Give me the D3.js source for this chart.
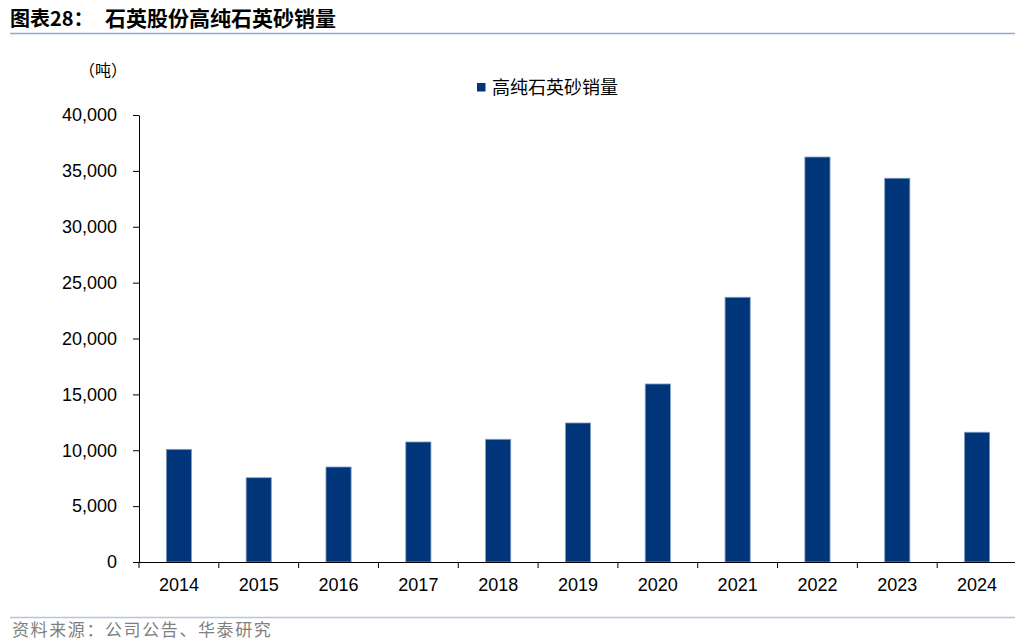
<!DOCTYPE html>
<html><head><meta charset="utf-8">
<script src="https://cdn.jsdelivr.net/npm/d3@7"></script>
<style>
html,body{margin:0;padding:0;background:#fff;}
svg{display:block;}
</style></head>
<body>
<svg id="c" width="1015" height="641"></svg>
<script>
const categories = ["2014","2015","2016","2017","2018","2019","2020","2021","2022","2023","2024"];
const sales = [10080, 7540, 8500, 10740, 10980, 12440, 15930, 23690, 36240, 34340, 11610];
const yTicks = [0, 5000, 10000, 15000, 20000, 25000, 30000, 35000, 40000];
const seriesName = "高纯石英砂销量";
const titlePrefix = "图表28：";
const titleText = "石英股份高纯石英砂销量";
const unitText = "（吨）";
const sourceText = "资料来源：公司公告、华泰研究";

const svg = d3.select("#c");
const m = {left:139, right:1017, top:115, bottom:562};
const x = d3.scaleBand().domain(categories).range([m.left, m.right]).paddingInner(0.685).paddingOuter(0.3425);
const y = d3.scaleLinear().domain([0,40000]).range([m.bottom, m.top]);

// title
svg.append("text").attr("x",10).attr("y",26).attr("font-size",20).attr("font-weight","bold").attr("fill","#000")
  .attr("font-family","'Noto Sans CJK SC',sans-serif").text(titlePrefix);
svg.append("text").attr("x",105).attr("y",26).attr("font-size",21).attr("font-weight","bold").attr("fill","#000")
  .attr("font-family","'Noto Sans CJK SC',sans-serif").text(titleText);
svg.append("line").attr("x1",10).attr("x2",1015).attr("y1",33.5).attr("y2",33.5).attr("stroke","#8eaad0").attr("stroke-width",1.5);

// unit
svg.append("text").attr("x",103).attr("y",76).attr("text-anchor","middle").attr("font-size",16)
  .attr("font-family","'Noto Sans CJK SC',sans-serif").attr("fill","#000").text(unitText);

// legend
svg.append("rect").attr("x",477).attr("y",83).attr("width",8.5).attr("height",8.5).attr("fill","#003679");
svg.append("text").attr("x",492).attr("y",94).attr("font-size",18)
  .attr("font-family","'Noto Sans CJK SC',sans-serif").attr("fill","#000").text(seriesName);

// bars
svg.append("g").selectAll("rect").data(categories).join("rect")
  .attr("x", (d)=>x(d)).attr("width", x.bandwidth())
  .attr("y", (d,i)=>y(sales[i])).attr("height",(d,i)=>y(0)-y(sales[i]))
  .attr("fill","#003679").attr("stroke","#7f9cc4").attr("stroke-width",0.8);

// y axis
const ya = svg.append("g").attr("transform",`translate(${m.left},0)`)
  .call(d3.axisLeft(y).tickValues(yTicks).tickSize(6).tickSizeOuter(0).tickPadding(16).tickFormat(d3.format(",")));
ya.select(".domain").attr("stroke","#000");
ya.selectAll(".tick line").attr("stroke","#000");
ya.selectAll("text").attr("font-family","'Liberation Sans',Arial,sans-serif").attr("font-size",18).attr("fill","#000");

// x axis
const xa = svg.append("g").attr("transform",`translate(0,${m.bottom})`)
  .call(d3.axisBottom(x).tickSize(0).tickPadding(16));
xa.select(".domain").remove();
xa.selectAll("text").attr("font-family","'Liberation Sans',Arial,sans-serif").attr("font-size",18).attr("fill","#000");
svg.append("line").attr("x1",m.left-6).attr("x2",m.right).attr("y1",m.bottom+0.5).attr("y2",m.bottom+0.5).attr("stroke","#000");
const step = x.step();
svg.append("g").selectAll("line").data(d3.range(categories.length+1)).join("line")
  .attr("x1",(i)=>m.left+i*step).attr("x2",(i)=>m.left+i*step)
  .attr("y1",m.bottom).attr("y2",m.bottom+6).attr("stroke","#000");

// footer
svg.append("line").attr("x1",10).attr("x2",1015).attr("y1",617.5).attr("y2",617.5).attr("stroke","#b4c6de").attr("stroke-width",1.5);
svg.append("text").attr("x",12).attr("y",636).attr("font-size",17).attr("letter-spacing",1.6)
  .attr("font-family","'Noto Sans CJK SC',sans-serif").attr("fill","#7f7f7f").text(sourceText);
</script>
</body></html>
